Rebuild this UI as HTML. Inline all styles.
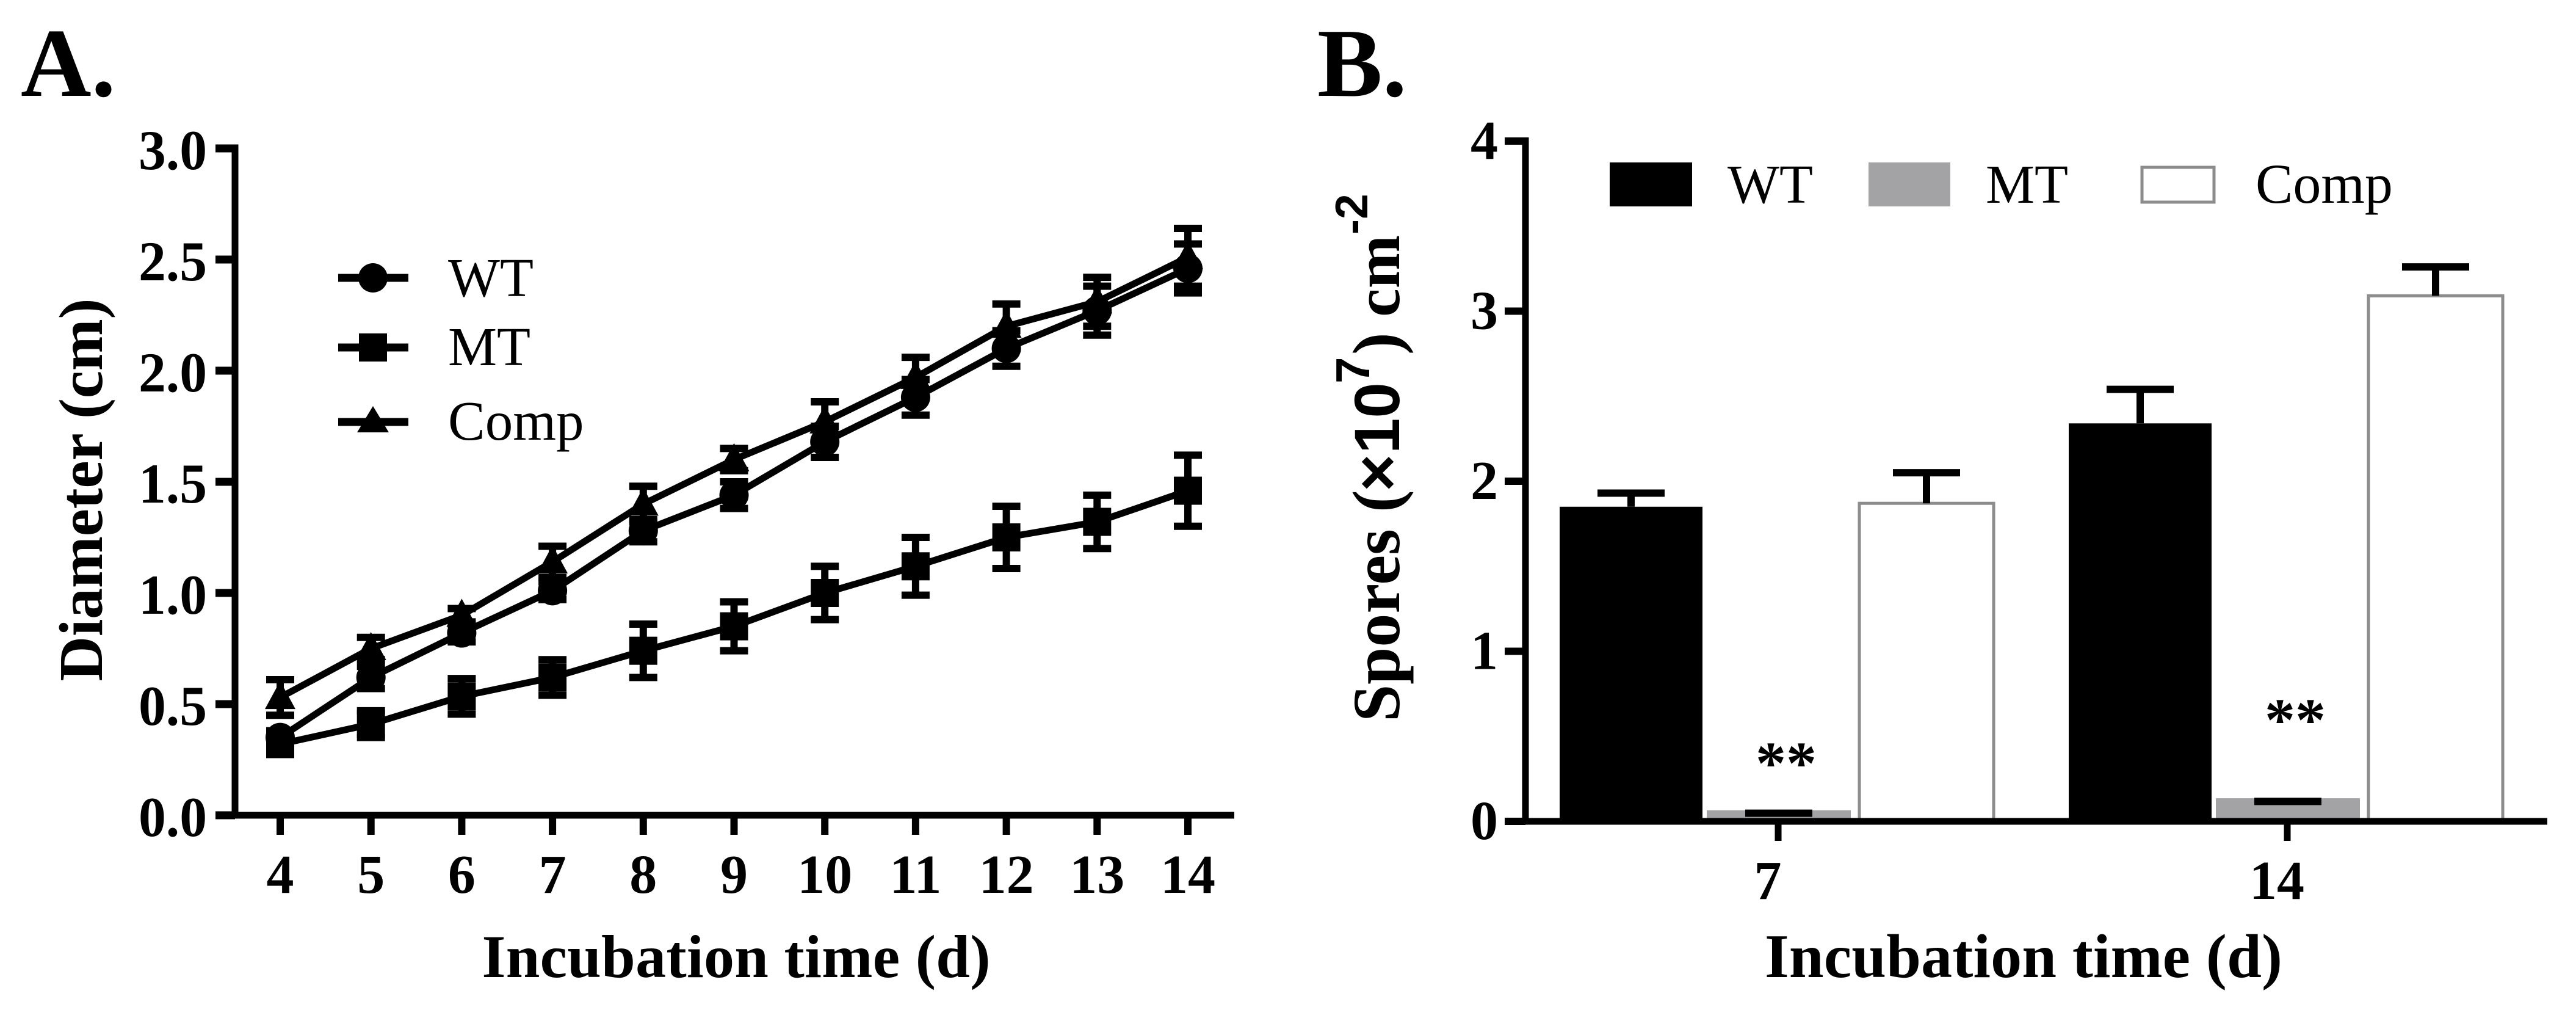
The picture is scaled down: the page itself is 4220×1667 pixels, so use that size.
<!DOCTYPE html>
<html lang="en">
<head>
<meta charset="utf-8">
<title>Diameter and spore production by strain</title>
<style>
html,body{margin:0;padding:0;background:#fff;width:4220px;height:1667px;overflow:hidden}
svg{display:block}
text{font-family:"Liberation Serif",serif;fill:#000}
.b{font-weight:bold}
</style>
</head>
<body>
<svg id="fig" xmlns="http://www.w3.org/2000/svg" width="4220" height="1667" viewBox="0 0 4220 1667">
  <rect width="4220" height="1667" fill="#fff"/>
  <text class="b" x="34" y="157" font-size="160">A.</text>
  <text class="b" x="2158" y="157" font-size="160">B.</text>

  <g id="chartA"></g>
  <g id="chartB"></g>

  <text class="b" x="1206" y="1600" font-size="100" text-anchor="middle" textLength="833">Incubation time (d)</text>
  <text class="b" transform="translate(167,802) rotate(-90)" font-size="102" text-anchor="middle" textLength="627">Diameter (cm)</text>

  <text class="b" x="3315" y="1600" font-size="102" text-anchor="middle" textLength="848">Incubation time (d)</text>
  <text class="b" transform="translate(2292,1182) rotate(-90)" font-size="110"><tspan x="0" y="0">Spores</tspan><tspan x="343" y="0">(</tspan><tspan x="377" y="0" font-family="Liberation Sans" font-size="105">×</tspan><tspan x="439" y="0" font-family="Liberation Sans" font-size="105">10</tspan><tspan x="554" y="-49" font-family="Liberation Sans" font-size="78">7</tspan><tspan x="601" y="0">)</tspan><tspan x="663" y="0" font-size="105">cm</tspan><tspan x="798" y="-52" font-family="Liberation Sans" font-size="75">-2</tspan></text>

  <g>
    <line x1="554" x2="669" y1="455" y2="455" stroke="#000" stroke-width="13"/>
    <circle cx="611" cy="455" r="24" fill="#000"/>
    <text x="734" y="485" font-size="90">WT</text>
    <line x1="554" x2="669" y1="569" y2="569" stroke="#000" stroke-width="13"/>
    <rect x="588" y="546" width="46" height="46" fill="#000"/>
    <text x="734" y="598" font-size="90">MT</text>
    <line x1="554" x2="669" y1="691" y2="691" stroke="#000" stroke-width="13"/>
    <polygon points="611,665 637,708 585,708" fill="#000"/>
    <text x="734" y="720" font-size="91">Comp</text>
  </g>

  <g>
    <rect x="2637" y="266" width="135" height="72" fill="#000"/>
    <text x="2830" y="332" font-size="90">WT</text>
    <rect x="3061" y="266" width="134" height="72" fill="#a3a3a5"/>
    <text x="3253" y="332" font-size="90">MT</text>
    <rect x="3509" y="274" width="118" height="57" fill="#fff" stroke="#8c8c8c" stroke-width="5"/>
    <text x="3695" y="332" font-size="92">Comp</text>
  </g>
</svg>

<script>
/* Panel A data */
const daysA = [4, 5, 6, 7, 8, 9, 10, 11, 12, 13, 14];
const wtDiameter = [0.35, 0.62, 0.82, 1.01, 1.28, 1.44, 1.68, 1.88, 2.10, 2.27, 2.46];
const wtDiameterErr = [0.03, 0.05, 0.04, 0.04, 0.05, 0.06, 0.07, 0.08, 0.08, 0.11, 0.11];
const mtDiameter = [0.32, 0.41, 0.535, 0.62, 0.74, 0.85, 1.00, 1.12, 1.25, 1.32, 1.46];
const mtDiameterErr = [0.03, 0.06, 0.08, 0.08, 0.12, 0.11, 0.12, 0.13, 0.14, 0.12, 0.16];
const compDiameter = [0.53, 0.75, 0.90, 1.14, 1.40, 1.60, 1.77, 1.97, 2.20, 2.31, 2.51];
const compDiameterErr = [0.08, 0.05, 0.03, 0.07, 0.08, 0.05, 0.09, 0.09, 0.10, 0.11, 0.13];
const yTicksA = ['0.0', '0.5', '1.0', '1.5', '2.0', '2.5', '3.0'];

/* Panel B data */
const groupsB = ['7', '14'];
const wtSpores = [1.85, 2.34];
const wtSporesErrTop = [1.93, 2.54];
const mtSpores = [0.065, 0.136];
const mtSporesErrTop = [0.048, 0.117];
const compSpores = [1.87, 3.09];
const compSporesErrTop = [2.05, 3.26];
const significance = ['**', '**'];
const significanceHeight = [0.223, 0.478];
const yTicksB = ['0', '1', '2', '3', '4'];

const NS = 'http://www.w3.org/2000/svg';
function mk(parent, tag, props, txt) {
  const el = document.createElementNS(NS, tag);
  for (const k in props) el.setAttribute(k, props[k]);
  if (txt !== undefined) el.textContent = txt;
  parent.appendChild(el);
  return el;
}

/* ---------- Panel A ---------- */
const gA = document.getElementById('chartA');
const xA = d => 459 + (d - 4) * 148.7;
const yA = v => 1335 - v * 364;
const AXW = 11;

let el;
el = mk(gA, 'line', {x1: 385, x2: 385, y1: yA(3) - 6.5, y2: yA(0) + AXW / 2, stroke: '#000', 'stroke-width': AXW});


el = mk(gA, 'line', {x1: 380, x2: 2022, y1: yA(0), y2: yA(0), stroke: '#000', 'stroke-width': AXW});



yTicksA.forEach(t => {
  const v = Number(t);
  const tick = mk(gA, 'line', {x1: 353, x2: 385, y1: yA(v), y2: yA(v), stroke: '#000', 'stroke-width': 13});
  
  
  const lab = mk(gA, 'text', {x: 339, y: yA(v) + 34, 'font-size': 92, 'font-weight': 'bold', 'text-anchor': 'end', textLength: 112, lengthAdjust: 'spacingAndGlyphs'}, t);
  
  
});
daysA.forEach(d => {
  const tick = mk(gA, 'line', {x1: xA(d), x2: xA(d), y1: yA(0), y2: yA(0) + 32, stroke: '#000', 'stroke-width': 12});
  
  
  const lab = mk(gA, 'text', {x: xA(d), y: 1462, 'font-size': 90, 'font-weight': 'bold', 'text-anchor': 'middle'}, String(d));
  
  
});

function drawSeriesA(name, vals, errs, shape) {
  const g = mk(gA, 'g', {});
  
  
  const pts = daysA.map((d, i) => xA(d) + ',' + yA(vals[i])).join(' ');
  const line = mk(g, 'polyline', {points: pts, fill: 'none', stroke: '#000', 'stroke-width': 11, 'stroke-linejoin': 'round'});
  
  
  daysA.forEach((d, i) => {
    const x = xA(d), y = yA(vals[i]), hi = yA(vals[i] + errs[i]), lo = yA(vals[i] - errs[i]);
    const err = mk(g, 'path', {d: `M${x} ${hi}V${lo}M${x - 23} ${hi}H${x + 23}M${x - 23} ${lo}H${x + 23}`, fill: 'none', stroke: '#000', 'stroke-width': 12});
    
    
    let m;
    if (shape === 'circle') m = mk(g, 'circle', {cx: x, cy: y, r: 24, fill: '#000'});
    else if (shape === 'square') m = mk(g, 'rect', {x: x - 23, y: y - 23, width: 46, height: 46, fill: '#000'});
    else m = mk(g, 'polygon', {points: `${x},${y - 27} ${x + 25},${y + 19} ${x - 25},${y + 19}`, fill: '#000'});
    
    
  });
}
drawSeriesA('wt', wtDiameter, wtDiameterErr, 'circle');
drawSeriesA('mt', mtDiameter, mtDiameterErr, 'square');
drawSeriesA('comp', compDiameter, compDiameterErr, 'triangle');

/* ---------- Panel B ---------- */
const gB = document.getElementById('chartB');
const xB = i => 2913 + i * 834;
const yB = v => 1345 - v * 278.5;
const SERIES_STEP = 242;

function drawBars(name, vals, errTop, seriesIdx, width, fill, stroke) {
  vals.forEach((v, i) => {
    const cx = xB(i) + (seriesIdx - 1) * SERIES_STEP + 1;
    const sw = stroke ? 5 : 0;
    const bar = mk(gB, 'rect', {x: cx - width / 2, y: yB(v), width: width, height: yB(0) - yB(v), fill: fill, stroke: stroke || 'none', 'stroke-width': sw});
    
    
    const err = mk(gB, 'path', {d: `M${cx} ${yB(v)}V${yB(errTop[i])}M${cx - 55} ${yB(errTop[i])}H${cx + 55}`, fill: 'none', stroke: '#000', 'stroke-width': 12});
    
    
  });
}
drawBars('wt', wtSpores, wtSporesErrTop, 0, 234, '#000', null);
drawBars('mt', mtSpores, mtSporesErrTop, 1, 236, '#a3a3a5', null);
drawBars('comp', compSpores, compSporesErrTop, 2, 220, '#fff', '#8c8c8c');

el = mk(gB, 'line', {x1: 2499, x2: 2499, y1: yB(4) - 6, y2: yB(0) + 5.5, stroke: '#000', 'stroke-width': AXW});


el = mk(gB, 'line', {x1: 2494, x2: 4173, y1: yB(0), y2: yB(0), stroke: '#000', 'stroke-width': AXW});



yTicksB.forEach(t => {
  const v = Number(t);
  const tick = mk(gB, 'line', {x1: 2465, x2: 2499, y1: yB(v), y2: yB(v), stroke: '#000', 'stroke-width': 12});
  
  
  const lab = mk(gB, 'text', {x: 2454, y: yB(v) + 29, 'font-size': 90, 'font-weight': 'bold', 'text-anchor': 'end'}, t);
  
  
});
groupsB.forEach((g, i) => {
  const tick = mk(gB, 'line', {x1: xB(i), x2: xB(i), y1: yB(0), y2: yB(0) + 32, stroke: '#000', 'stroke-width': 11});
  
  
  const lab = mk(gB, 'text', {x: xB(i) - 17, y: 1472, 'font-size': 90, 'font-weight': 'bold', 'text-anchor': 'middle'}, g);
  
  
  const star = mk(gB, 'text', {x: xB(i) + 13, y: yB(significanceHeight[i]), 'font-size': 100, 'font-weight': 'bold', 'text-anchor': 'middle'}, significance[i]);
  
  
});
</script>
</body>
</html>
